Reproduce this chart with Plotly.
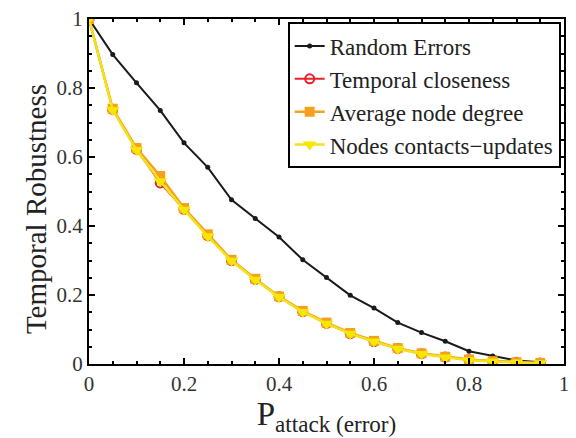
import plotly.graph_objects as go

x = [0, 0.05, 0.1, 0.15, 0.2, 0.25, 0.3, 0.35, 0.4, 0.45, 0.5, 0.55, 0.6, 0.65, 0.7, 0.75, 0.8, 0.85, 0.9, 0.95]
random_errors = [1.0, 0.897, 0.815, 0.735, 0.641, 0.570, 0.476, 0.422, 0.368, 0.302, 0.251, 0.199, 0.162, 0.120, 0.091, 0.066, 0.037, 0.023, 0.010, 0.005]
temporal_closeness = [1.0, 0.738, 0.622, 0.525, 0.448, 0.372, 0.300, 0.245, 0.195, 0.152, 0.118, 0.088, 0.065, 0.045, 0.030, 0.020, 0.012, 0.008, 0.005, 0.003]
avg_node_degree = [1.0, 0.740, 0.626, 0.545, 0.452, 0.376, 0.302, 0.247, 0.196, 0.154, 0.120, 0.090, 0.067, 0.046, 0.031, 0.021, 0.013, 0.008, 0.005, 0.003]
contacts_updates = [1.0, 0.736, 0.620, 0.530, 0.447, 0.370, 0.299, 0.244, 0.194, 0.151, 0.117, 0.088, 0.065, 0.044, 0.029, 0.019, 0.011, 0.007, 0.004, 0.002]
tick_vals = [0, 0.2, 0.4, 0.6, 0.8, 1]
tick_text = ["0", "0.2", "0.4", "0.6", "0.8", "1"]

font = "Liberation Serif"
fig = go.Figure()
fig.add_trace(go.Scatter(x=x, y=random_errors, name="Random Errors", mode="lines+markers",
                         line=dict(color="#1a1a1a", width=2), marker=dict(symbol="circle", size=5, color="#1a1a1a")))
fig.add_trace(go.Scatter(x=x, y=temporal_closeness, name="Temporal closeness", mode="lines+markers",
                         line=dict(color="#e8202a", width=2), marker=dict(symbol="circle-open", size=9, color="#e8202a", line=dict(width=2))))
fig.add_trace(go.Scatter(x=x, y=avg_node_degree, name="Average node degree", mode="lines+markers",
                         line=dict(color="#f5a020", width=2.5), marker=dict(symbol="square", size=10, color="#f5a020")))
fig.add_trace(go.Scatter(x=x, y=contacts_updates, name="Nodes contacts\u2212updates", mode="lines+markers",
                         line=dict(color="#f2e21a", width=2.5), marker=dict(symbol="triangle-down", size=12, color="#f5e800")))

axis_common = dict(showline=True, linecolor="black", linewidth=2, mirror="ticks", ticks="inside",
                   ticklen=6, tickwidth=1.5, tickcolor="black", showgrid=False, zeroline=False,
                   tickfont=dict(family=font, size=21, color="#333"),
                   minor=dict(ticks="inside", ticklen=3, tickcolor="black", nticks=5))
fig.update_xaxes(range=[0, 1], tickvals=tick_vals, ticktext=tick_text,
                 title=dict(text="P<sub>attack (error)</sub>", font=dict(family=font, size=33, color="#222"), standoff=0),
                 **axis_common)
fig.update_yaxes(range=[0, 1], tickvals=tick_vals, ticktext=tick_text, **axis_common)
fig.add_annotation(text="Temporal Robustness", xref="paper", yref="paper", x=-0.113, y=0.45,
                   textangle=-90, showarrow=False, xanchor="center", yanchor="middle",
                   font=dict(family=font, size=29, color="#222"))
fig.update_layout(width=576, height=438, margin=dict(l=89, r=7, t=13, b=74),
                  plot_bgcolor="white", paper_bgcolor="white",
                  legend=dict(x=0.993, y=0.99, xanchor="right", yanchor="top", bgcolor="white",
                              bordercolor="black", borderwidth=2,
                              font=dict(family=font, size=23, color="#222"), tracegroupgap=0),
                  showlegend=True)
fig.write_html("out.html")
